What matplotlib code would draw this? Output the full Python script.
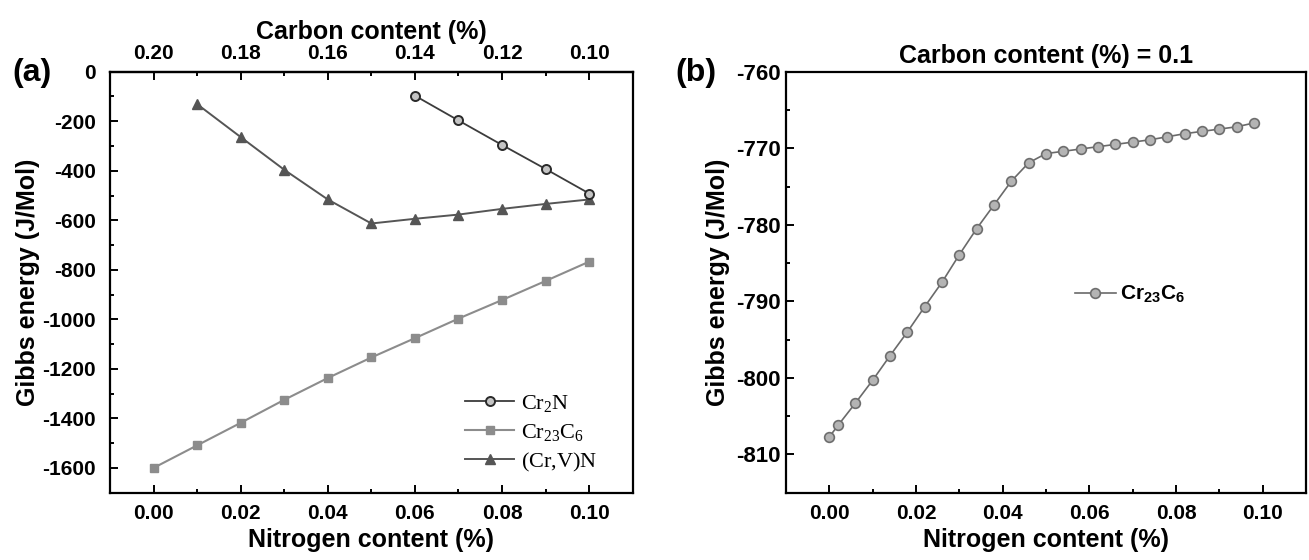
import matplotlib
matplotlib.use('Agg')
import matplotlib.pyplot as plt
from matplotlib.ticker import MultipleLocator, FixedLocator, FormatStrFormatter

# ---------------- data ----------------
# panel (a)
nitrogen_a = [0.00, 0.01, 0.02, 0.03, 0.04, 0.05, 0.06, 0.07, 0.08, 0.09, 0.10]
cr23c6_a = [-1600, -1509, -1418, -1325, -1237, -1154, -1076, -997, -922, -845, -767]
cr2n_x = [0.06, 0.07, 0.08, 0.09, 0.10]
cr2n_g = [-97, -197, -296, -393, -492]
crvn_x = [0.01, 0.02, 0.03, 0.04, 0.05, 0.06, 0.07, 0.08, 0.09, 0.10]
crvn_g = [-131, -264, -396, -516, -613, -594, -577, -554, -534, -516]
carbon_major = [0.20, 0.18, 0.16, 0.14, 0.12, 0.10]
carbon_minor = [0.21, 0.19, 0.17, 0.15, 0.13, 0.11, 0.09]
carbon_total = 0.20

# panel (b)
nitrogen_b = [0.000, 0.002, 0.006, 0.010, 0.014, 0.018, 0.022, 0.026, 0.030,
              0.034, 0.038, 0.042, 0.046, 0.050, 0.054, 0.058, 0.062, 0.066,
              0.070, 0.074, 0.078, 0.082, 0.086, 0.090, 0.094, 0.098]
cr23c6_b = [-807.7, -806.2, -803.3, -800.3, -797.1, -794.0, -790.7, -787.5,
            -783.9, -780.5, -777.4, -774.3, -771.9, -770.7, -770.4, -770.1,
            -769.8, -769.5, -769.2, -768.9, -768.5, -768.1, -767.8, -767.5,
            -767.2, -766.7]

# ---------------- style ----------------
plt.rcParams['font.family'] = ['Liberation Sans', 'DejaVu Sans']
plt.rcParams['font.weight'] = 'bold'
plt.rcParams['axes.labelweight'] = 'bold'
plt.rcParams['mathtext.fontset'] = 'custom'
plt.rcParams['mathtext.rm'] = 'Liberation Serif:normal'
plt.rcParams['mathtext.it'] = 'Liberation Serif:italic:normal'
plt.rcParams['mathtext.bf'] = 'Liberation Sans:bold'

TICK_FS = 15
LABEL_FS = 18
SPINE_W = 1.6

fig = plt.figure(figsize=(13.09, 5.6), dpi=100)
axA = fig.add_axes([0.0840, 0.1202, 0.3994, 0.7518])
axB = fig.add_axes([0.6005, 0.1202, 0.3972, 0.7518])


def style_axes(ax, ypad, ysize):
    for s in ax.spines.values():
        s.set_linewidth(SPINE_W)
    ax.tick_params(axis='both', which='both', direction='in', top=False, right=False,
                   width=1.4)
    ax.tick_params(axis='x', labelsize=TICK_FS, pad=8)
    ax.tick_params(axis='y', labelsize=ysize, pad=ypad)
    ax.tick_params(axis='both', which='major', length=6)
    ax.tick_params(axis='both', which='minor', length=3)
    for lab in ax.get_xticklabels() + ax.get_yticklabels():
        lab.set_fontweight('bold')


# ---------------- panel (a) ----------------
axA.plot(cr2n_x, cr2n_g, '-o', color='#3c3c3c', lw=1.3, ms=6.5,
         mfc='#c4c4c4', mec='#2a2a2a', mew=1.4, label=r'$\mathrm{Cr_2N}$', zorder=4)
axA.plot(nitrogen_a, cr23c6_a, '-s', color='#8c8c8c', lw=1.5, ms=6,
         mfc='#8c8c8c', mec='#8c8c8c', label=r'$\mathrm{Cr_{23}C_6}$', zorder=3)
axA.plot(crvn_x, crvn_g, '-^', color='#555555', lw=1.4, ms=7,
         mfc='#555555', mec='#555555', label=r'$\mathrm{(Cr{,}V)N}$', zorder=3)

axA.set_xlim(-0.01, 0.11)
axA.set_ylim(-1700, 0)
axA.xaxis.set_major_locator(MultipleLocator(0.02))
axA.xaxis.set_minor_locator(MultipleLocator(0.01))
axA.yaxis.set_major_locator(MultipleLocator(200))
axA.yaxis.set_minor_locator(MultipleLocator(100))
axA.xaxis.set_major_formatter(FormatStrFormatter('%.2f'))
axA.yaxis.set_major_formatter(FormatStrFormatter('%d'))
style_axes(axA, ypad=10, ysize=TICK_FS)
axA.set_xlabel('Nitrogen content (%)', fontsize=LABEL_FS, fontweight='bold', labelpad=4)
axA.set_ylabel('Gibbs energy (J/Mol)', fontsize=LABEL_FS, fontweight='bold', labelpad=2)

secA = axA.secondary_xaxis('top', functions=(lambda n: carbon_total - n,
                                             lambda c: carbon_total - c))
secA.xaxis.set_major_locator(FixedLocator(carbon_major))
secA.xaxis.set_minor_locator(FixedLocator(carbon_minor))
secA.xaxis.set_major_formatter(FormatStrFormatter('%.2f'))
secA.tick_params(axis='x', which='both', direction='in', width=1.4, labelsize=TICK_FS, pad=6)
secA.tick_params(axis='x', which='major', length=6)
secA.tick_params(axis='x', which='minor', length=3)
secA.spines['top'].set_linewidth(SPINE_W)
for lab in secA.get_xticklabels():
    lab.set_fontweight('bold')
secA.set_xlabel('Carbon content (%)', fontsize=LABEL_FS, fontweight='bold', labelpad=4)

axA.legend(loc='lower left', bbox_to_anchor=(0.68, 0.045), frameon=False,
           fontsize=16, handlelength=2.2, handletextpad=0.3, labelspacing=0.35,
           borderpad=0, borderaxespad=0)

fig.text(12 / 1309, 1 - 73 / 560, '(a)', fontsize=23, fontweight='bold',
         ha='left', va='center')

# ---------------- panel (b) ----------------
axB.plot(nitrogen_b, cr23c6_b, '-o', color='#6a6a6a', lw=1.2, ms=7,
         mfc='#b4b4b4', mec='#6e6e6e', mew=1.2, label=r'$\mathbf{Cr_{23}C_6}$')
axB.set_xlim(-0.01, 0.11)
axB.set_ylim(-815, -760)
axB.xaxis.set_major_locator(MultipleLocator(0.02))
axB.xaxis.set_minor_locator(MultipleLocator(0.01))
axB.yaxis.set_major_locator(MultipleLocator(10))
axB.yaxis.set_minor_locator(MultipleLocator(5))
axB.xaxis.set_major_formatter(FormatStrFormatter('%.2f'))
axB.yaxis.set_major_formatter(FormatStrFormatter('%d'))
style_axes(axB, ypad=4, ysize=16)
axB.set_xlabel('Nitrogen content (%)', fontsize=LABEL_FS, fontweight='bold', labelpad=4)
axB.set_ylabel('Gibbs energy (J/Mol)', fontsize=LABEL_FS, fontweight='bold', labelpad=4)
axB.set_title('Carbon content (%) = 0.1', fontsize=LABEL_FS, fontweight='bold', pad=6)

axB.legend(loc='center left', bbox_to_anchor=(0.555, 0.47), frameon=False,
           fontsize=15, handlelength=2.0, handletextpad=0.2, borderpad=0,
           borderaxespad=0)

fig.text(675 / 1309, 1 - 73 / 560, '(b)', fontsize=23, fontweight='bold',
         ha='left', va='center')

fig.savefig('out.png', dpi=100)
